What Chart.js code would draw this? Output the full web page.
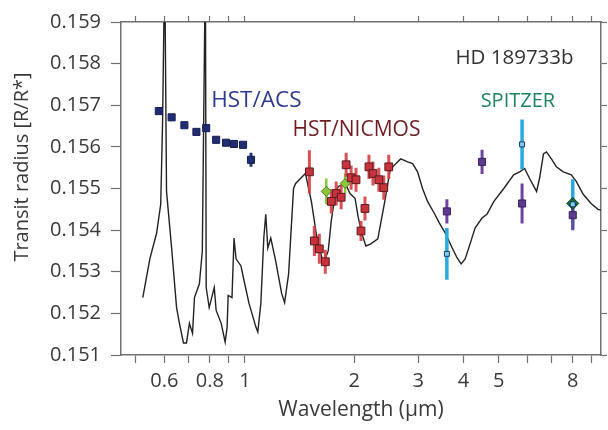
<!DOCTYPE html>
<html>
<head>
<meta charset="utf-8">
<script src="https://cdn.jsdelivr.net/npm/chart.js@4.4.0/dist/chart.umd.min.js"></script>
<style>
  html, body { margin: 0; padding: 0; background: #fff; }
  canvas { display: block; }
</style>
</head>
<body>
<canvas id="myChart" width="608" height="430"></canvas>
<script>
// model spectrum
const modelWavelength = [
  0.523, 0.547, 0.571, 0.586, 0.593, 0.601, 0.608, 0.628, 0.648, 0.660,
  0.677, 0.690, 0.703, 0.717, 0.726, 0.749, 0.763, 0.778, 0.782, 0.797,
  0.823, 0.833, 0.860, 0.882, 0.893, 0.899, 0.921, 0.933, 0.945, 0.975,
  0.994, 1.026, 1.072, 1.085, 1.106, 1.127, 1.141, 1.156, 1.178, 1.215,
  1.262, 1.286, 1.319, 1.361, 1.379, 1.422, 1.468, 1.524, 1.573, 1.644,
  1.696, 1.728, 1.773, 1.807, 1.888, 1.948, 2.011, 2.049, 2.101, 2.154,
  2.223, 2.323, 2.428, 2.506, 2.554, 2.636, 2.686, 2.807, 2.896, 2.989,
  3.085, 3.184, 3.326, 3.433, 3.565, 3.724, 3.843, 3.941, 4.042, 4.171,
  4.305, 4.498, 4.642, 4.851, 5.165, 5.500, 5.712, 5.895, 6.084, 6.359,
  6.479, 6.644, 6.770, 6.987, 7.211, 7.535, 7.925, 8.178, 8.549, 8.985,
  9.391, 9.570
];
const modelRadius = [
  0.15238, 0.15331, 0.15393, 0.15462, 0.15660, 0.16050, 0.15493, 0.15357, 0.15214, 0.15176,
  0.15129, 0.15129, 0.15176, 0.15152, 0.15238, 0.15271, 0.15350, 0.16050, 0.15262, 0.15214,
  0.15262, 0.15207, 0.15176, 0.15131, 0.15167, 0.15243, 0.15238, 0.15381, 0.15331, 0.15314,
  0.15279, 0.15224, 0.15167, 0.15155, 0.15224, 0.15381, 0.15438, 0.15357, 0.15381, 0.15326,
  0.15248, 0.15226, 0.15295, 0.15500, 0.15512, 0.15524, 0.15536, 0.15469, 0.15390, 0.15319,
  0.15350, 0.15421, 0.15486, 0.15505, 0.15512, 0.15488, 0.15476, 0.15433, 0.15390, 0.15362,
  0.15367, 0.15379, 0.15469, 0.15540, 0.15552, 0.15564, 0.15571, 0.15564, 0.15560, 0.15540,
  0.15500, 0.15469, 0.15440, 0.15417, 0.15393, 0.15357, 0.15333, 0.15319, 0.15331, 0.15367,
  0.15405, 0.15429, 0.15438, 0.15469, 0.15500, 0.15533, 0.15540, 0.15548, 0.15524, 0.15493,
  0.15524, 0.15583, 0.15588, 0.15571, 0.15552, 0.15540, 0.15533, 0.15517, 0.15486, 0.15464,
  0.15450, 0.15448
];

// HST/ACS
const acsWavelength = [0.579, 0.628, 0.681, 0.735, 0.782, 0.833, 0.887, 0.933, 0.988, 1.039];
const acsRadius     = [0.15686, 0.15671, 0.15652, 0.15636, 0.15645, 0.15617, 0.15610, 0.15607, 0.15605, 0.15569];
const acsError      = [0.00004, 0.00004, 0.00004, 0.00004, 0.00004, 0.00004, 0.00004, 0.00004, 0.00004, 0.00017];

// HST/NICMOS (red squares)
const nicmosWavelength = [1.505, 1.553, 1.603, 1.665, 1.729, 1.784, 1.841, 1.900, 1.961, 2.023, 2.088, 2.141, 2.196, 2.252, 2.338, 2.413, 2.490];
const nicmosRadius     = [0.15540, 0.15374, 0.15355, 0.15324, 0.15469, 0.15488, 0.15479, 0.15557, 0.15526, 0.15521, 0.15398, 0.15452, 0.15552, 0.15536, 0.15521, 0.15502, 0.15552];
const nicmosError      = [0.00052, 0.00036, 0.00036, 0.00029, 0.00029, 0.00029, 0.00029, 0.00029, 0.00029, 0.00029, 0.00024, 0.00029, 0.00029, 0.00029, 0.00029, 0.00029, 0.00029];

// HST/NICMOS photometry (green diamonds)
const nicGreenWavelength = [1.675, 1.888];
const nicGreenRadius     = [0.15493, 0.15512];
const nicGreenError      = [0.00031, 0.00024];

// Spitzer (purple squares)
const spitzerWavelength = [3.6, 4.5, 5.8, 8.0];
const spitzerRadius     = [0.15445, 0.15564, 0.15464, 0.15436];
const spitzerError      = [0.00029, 0.00029, 0.00048, 0.00036];

// Spitzer (light blue)
const spitzerBlueWavelength = [3.6, 5.8, 8.0];
const spitzerBlueRadius     = [0.15343, 0.15606, 0.15462];
const spitzerBlueError      = [0.00062, 0.00060, 0.00060];

// Spitzer 8 micron (dark green diamond)
const spitzerGreenWavelength = [8.0];
const spitzerGreenRadius     = [0.15464];

// axes
const xMin = 0.4555, xMax = 9.57;
const xTickValues = [0.5, 0.6, 0.7, 0.8, 0.9, 1, 2, 3, 4, 5, 6, 7, 8, 9];
const xTickLabels = [0.6, 0.8, 1, 2, 3, 4, 5, 8];
const yMin = 0.151, yMax = 0.159;

const points = (xs, ys) => xs.map((x, i) => ({x: x, y: ys[i]}));
function errorBars(xs, ys, errs) {
  const out = [];
  xs.forEach((x, i) => {
    out.push({x: x, y: ys[i] - errs[i]}, {x: x, y: ys[i] + errs[i]}, {x: x, y: null});
  });
  return out;
}
const barSet = (data, color, width) => ({
  data, borderColor: color, borderWidth: width, pointRadius: 0,
  showLine: true, spanGaps: false, order: 5
});
const markSet = (data, style, radius, fill, edge) => ({
  data, pointStyle: style, pointRadius: radius, backgroundColor: fill,
  borderColor: edge, pointBorderWidth: 1, showLine: false, order: 1
});

const frameColor = '#707070';
const textColor = '#3a3a3a';

const data = {
  datasets: [
    { data: points(modelWavelength, modelRadius), borderColor: '#222222', borderWidth: 1.4,
      pointRadius: 0, tension: 0, showLine: true, order: 10 },
    barSet(errorBars(acsWavelength, acsRadius, acsError), '#2a3578', 3),
    barSet(errorBars(nicmosWavelength, nicmosRadius, nicmosError), 'rgba(214,62,68,0.9)', 3),
    barSet(errorBars(nicGreenWavelength, nicGreenRadius, nicGreenError), '#8cc63f', 2.5),
    barSet(errorBars(spitzerWavelength, spitzerRadius, spitzerError), '#6a46a0', 3),
    barSet(errorBars(spitzerBlueWavelength, spitzerBlueRadius, spitzerBlueError), '#2aa9de', 3.5),
    markSet(points(acsWavelength, acsRadius), 'rect', 5, '#222c70', '#141c55'),
    markSet(points(nicmosWavelength, nicmosRadius), 'rect', 5.5, '#c8323c', '#5a1a1e'),
    markSet(points(nicGreenWavelength, nicGreenRadius), 'rectRot', 5, '#8cc63f', '#4a7a20'),
    markSet(points(spitzerWavelength, spitzerRadius), 'rect', 5, '#5c3a8e', '#3a2060'),
    markSet(points(spitzerBlueWavelength, spitzerBlueRadius), 'rect', 3.5, '#7fd0ef', '#1a3a60'),
    markSet(points(spitzerGreenWavelength, spitzerGreenRadius), 'rectRot', 6, '#1b6b3a', '#0e3d20')
  ]
};

const annotations = [
  {text: 'HD 189733b', x: 3.80, y: 0.15800, color: '#333333', size: 20.5},
  {text: 'HST/ACS', x: 0.807, y: 0.15695, color: '#2d3a8c', size: 22.5},
  {text: 'HST/NICMOS', x: 1.352, y: 0.15626, color: '#6e1e23', size: 21},
  {text: 'SPITZER', x: 4.46, y: 0.15695, color: '#1e8264', size: 20}
];

const figureText = {
  id: 'figureText',
  afterDatasetsDraw(chart) {
    const {ctx, scales: {x, y}} = chart;
    ctx.save();
    ctx.textAlign = 'left';
    ctx.textBaseline = 'alphabetic';
    annotations.forEach(a => {
      ctx.font = a.size + "px 'Open Sans', sans-serif";
      ctx.fillStyle = a.color;
      ctx.fillText(a.text, x.getPixelForValue(a.x), y.getPixelForValue(a.y));
    });
    ctx.font = "20px 'Open Sans', sans-serif";
    ctx.translate(22, chart.chartArea.top + 145);
    ctx.rotate(-Math.PI / 2);
    ctx.textAlign = 'center';
    ctx.textBaseline = 'middle';
    ctx.fillStyle = textColor;
    ctx.fillText('Transit radius [R/R*]', 0, 0);
    ctx.restore();
  }
};

const setXTicks = s => { s.ticks = xTickValues.map(v => ({value: v})); };
const grid = len => ({drawOnChartArea: false, tickLength: len, tickColor: frameColor, tickWidth: 1.2});
const border = {color: frameColor, width: 1.5};

Chart.defaults.font.family = "'Open Sans', sans-serif";

const config = {
  type: 'line',
  data,
  options: {
    responsive: false,
    animation: false,
    layout: {padding: 0},
    plugins: {legend: {display: false}, tooltip: {enabled: false}},
    scales: {
      x: {
        type: 'logarithmic', position: 'bottom', min: xMin, max: xMax,
        afterBuildTicks: setXTicks,
        afterFit: s => { s.height = 75; },
        ticks: {
          autoSkip: false, maxRotation: 0, color: textColor, font: {size: 20}, padding: 6,
          callback: v => xTickLabels.includes(v) ? String(v) : ''
        },
        grid: grid(8),
        border,
        title: {display: true, text: 'Wavelength (μm)', color: textColor, font: {size: 21},
                padding: {top: 0, bottom: 7}}
      },
      x2: {
        type: 'logarithmic', position: 'top', min: xMin, max: xMax,
        afterBuildTicks: setXTicks,
        afterFit: s => { s.height = 19; },
        ticks: {display: false},
        grid: grid(6),
        border
      },
      y: {
        type: 'linear', position: 'left', min: yMin, max: yMax,
        afterFit: s => { s.width = 121; },
        ticks: {stepSize: 0.001, color: textColor, font: {size: 20}, padding: 10,
                callback: v => v.toFixed(3)},
        grid: grid(10),
        border
      },
      y2: {
        type: 'linear', position: 'right', min: yMin, max: yMax,
        afterFit: s => { s.width = 3; },
        ticks: {stepSize: 0.001, display: false},
        grid: grid(6),
        border
      }
    }
  },
  plugins: [figureText]
};

const myChart = new Chart(document.getElementById('myChart'), config);
</script>
</body>
</html>
